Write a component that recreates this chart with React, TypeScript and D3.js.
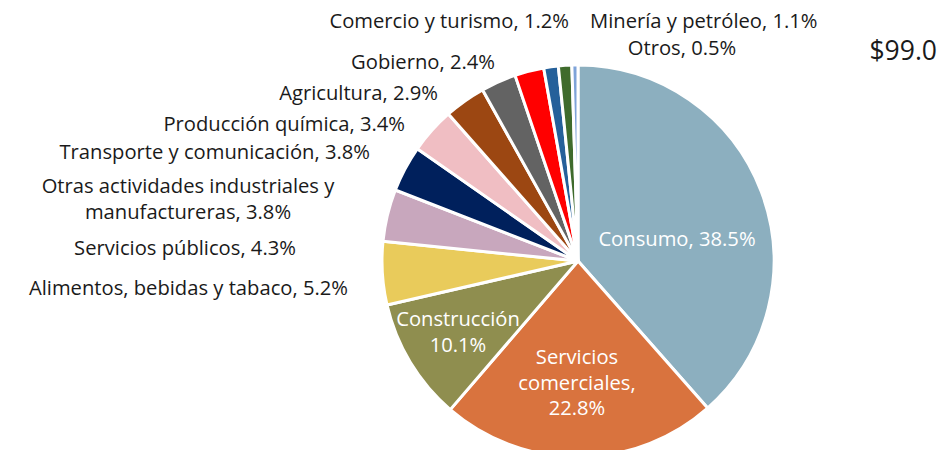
import React from "react";
import * as d3 from "d3";

const categories = [
  "Consumo",
  "Servicios comerciales",
  "Construcción",
  "Alimentos, bebidas y tabaco",
  "Servicios públicos",
  "Otras actividades industriales y manufactureras",
  "Transporte y comunicación",
  "Producción química",
  "Agricultura",
  "Gobierno",
  "Comercio y turismo",
  "Minería y petróleo",
  "Otros",
];
const values = [38.5, 22.8, 10.1, 5.2, 4.3, 3.8, 3.8, 3.4, 2.9, 2.4, 1.2, 1.1, 0.5];
const colors = [
  "#8CAFBF", "#D9733E", "#8F8E4F", "#E9CB5B", "#C8A7BD", "#00205C",
  "#F0BEC3", "#9C4712", "#636363", "#FF0000", "#25609A", "#3F6B2C", "#7EA3D9",
];
const totalLabel = "$99.0";

const labelLines: string[][] = [
  ["Consumo, 38.5%"],
  ["Servicios", "comerciales,", "22.8%"],
  ["Construcción", "10.1%"],
  ["Alimentos, bebidas y tabaco, 5.2%"],
  ["Servicios públicos, 4.3%"],
  ["Otras actividades industriales y", "manufactureras, 3.8%"],
  ["Transporte y comunicación, 3.8%"],
  ["Producción química, 3.4%"],
  ["Agricultura, 2.9%"],
  ["Gobierno, 2.4%"],
  ["Comercio y turismo, 1.2%"],
  ["Minería y petróleo, 1.1%"],
  ["Otros, 0.5%"],
];

const labelLayout: [number, number, string][] = [
  [677, 238, "middle"],
  [577, 356, "middle"],
  [458, 318, "middle"],
  [348, 287, "end"],
  [185, 247, "middle"],
  [188, 185, "middle"],
  [370, 151, "end"],
  [405, 123, "end"],
  [438, 92, "end"],
  [495, 61, "end"],
  [569, 20, "end"],
  [590, 20, "start"],
  [682, 47, "middle"],
];

const W = 941;
const H = 450;
const cx = 578;
const cy = 261;
const R = 196;
const FONT = "'Open Sans', sans-serif";

export default function App() {
  const data = categories.map((c, i) => ({ c, v: values[i], i }));
  const pie = d3.pie<any>().value((d) => d.v).sort(null).startAngle(0).endAngle(2 * Math.PI);
  const arcs = pie(data);
  const arc = d3.arc<any>().innerRadius(0).outerRadius(R);
  const inside = [0, 1, 2];
  return (
    <svg width={W} height={H} style={{ position: "absolute", left: 0, top: 0, background: "#fff" }}>
      <g transform={`translate(${cx},${cy})`}>
        {arcs.map((a, i) => (
          <path key={i} d={arc(a) as string} fill={colors[i]} stroke="#fff" strokeWidth={3} strokeLinejoin="round" />
        ))}
      </g>
      {labelLines.map((lines, i) => {
        const [x, y, anchor] = labelLayout[i];
        const isIn = inside.includes(i);
        return (
          <text
            key={i}
            x={x}
            y={y}
            textAnchor={anchor as any}
            dominantBaseline="central"
            fontFamily={FONT}
            fontSize={20.2}
            fill={isIn ? "#fff" : "#1a1a1a"}
          >
            {lines.map((l, j) => (
              <tspan key={j} x={x} dy={j === 0 ? 0 : 25.5}>
                {l}
              </tspan>
            ))}
          </text>
        );
      })}
      <text x={937} y={50} textAnchor="end" dominantBaseline="central" fontFamily={FONT} fontSize={26.5} fontWeight={500} fill="#1a1a1a">
        {totalLabel}
      </text>
    </svg>
  );
}
